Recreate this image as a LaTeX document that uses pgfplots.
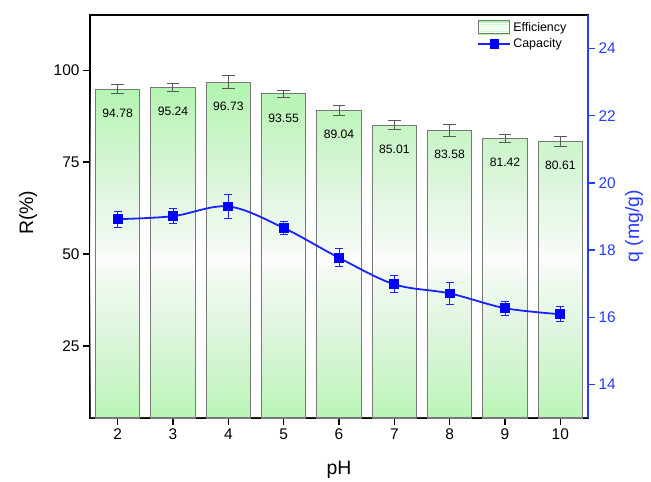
\documentclass[border=0pt]{standalone}
\usepackage{fontspec}
\setmainfont{Liberation Sans}
\usepackage{pgfplots}
\pgfplotsset{compat=1.18}
\usepackage{pgfplotstable}

\definecolor{barg}{RGB}{176,245,172}
\definecolor{barline}{RGB}{120,120,120}
\definecolor{qblue}{RGB}{25,35,255}
\definecolor{axblue}{RGB}{40,60,255}

% legend glyphs: green box whitening towards its centre, line with centred marker
\pgfplotsset{
  barleg/.style={legend image code/.code={%
    \fill[barg] (0bp,-6.5bp) rectangle (31bp,6.5bp);
    \fill[white, fill opacity=0.45] (0bp,-4.5bp) rectangle (31bp,4.5bp);
    \fill[white, fill opacity=0.6] (0bp,-2.5bp) rectangle (31bp,2.5bp);
    \draw[barline, line width=1bp] (0bp,-6.5bp) rectangle (31bp,6.5bp);}},
  capleg/.style={legend image code/.code={\draw[mark repeat=2, mark phase=2, ##1] plot coordinates {(0bp,0bp) (16bp,0bp) (32bp,0bp)};}},
}

% pH, removal efficiency R (%) with error, adsorption capacity q (mg/g) with error
\pgfplotstableread{
ph  R      eR    q      eq
2   94.78  1.20  18.92  0.24
3   95.24  1.00  19.01  0.22
4   96.73  1.70  19.30  0.35
5   93.55  0.95  18.66  0.20
6   89.04  1.30  17.77  0.27
7   85.01  1.27  16.98  0.25
8   83.58  1.70  16.71  0.32
9   81.42  1.10  16.27  0.21
10  80.61  1.27  16.09  0.23
}\datatable

\begin{document}
\begin{tikzpicture}
\useasboundingbox (-90bp,-64bp) rectangle (561bp,418bp);

% Efficiency bars on the left axis
\begin{axis}[
  scale only axis, width=498bp, height=403bp,
  xmin=1.5, xmax=10.5, ymin=5.4, ymax=115,
  xtick={2,3,...,10}, ytick={25,50,75,100},
  xtick pos=left, ytick pos=left,
  tick align=outside, major tick length=7bp,
  axis line style={black, line width=1.2bp},
  tick style={black, line width=1.2bp},
  /pgf/number format/assume math mode=true,
  ticklabel style={font=\fontsize{15.5}{18}\selectfont},
  xlabel={pH}, ylabel={R(\%)},
  every axis x label/.style={at={(axis description cs:0.5,-0.129)}, anchor=center, font=\fontsize{19.5}{22}\selectfont},
  every axis y label/.style={at={(axis description cs:-0.1245,0.509)}, anchor=center, rotate=90, font=\fontsize{19.5}{22}\selectfont},
  clip=true,
]
% bar bodies
\addplot[ybar, bar width=0.8, bar shift=0pt, fill=barg, draw=none, forget plot]
  table[x=ph, y=R]{\datatable};
% whitening towards mid-height of the bars (layered translucent bands)
\pgfplotsinvokeforeach{1,...,30}{%
  \pgfmathsetmacro\op{1-(((#1-0.5)/30)^1.2)/(((#1+0.5)/30)^1.2)}%
  \pgfmathsetmacro\ylo{max(5.4,48.5-#1*48.5/30)}%
  \pgfmathsetmacro\yhi{48.5+#1*48.5/30}%
  \edef\band{\noexpand\fill[white, fill opacity=\op] (axis cs:1.5,\ylo) rectangle (axis cs:10.5,\yhi);}%
  \band
}
% outlines, value labels and error bars
\addplot[ybar, bar width=0.8, bar shift=0pt, fill=none, draw=barline, line width=1.1bp,
  point meta=y,
  nodes near coords={\pgfmathprintnumber[fixed,fixed zerofill,precision=2,assume math mode=true]{\pgfplotspointmeta}},
  nodes near coords style={font=\fontsize{12.2}{14}\selectfont, black, anchor=center, yshift=-24bp},
  error bars/.cd, y dir=both, y explicit,
  error bar style={black!65, line width=1bp},
  error mark options={black!65, line width=1bp, mark size=6.3bp, rotate=90}]
  table[x=ph, y=R, y error=eR]{\datatable};
\end{axis}

% Capacity curve on the right axis
\begin{axis}[
  scale only axis, width=498bp, height=403bp,
  xmin=1.5, xmax=10.5, ymin=13, ymax=25,
  axis x line=none, axis y line*=right,
  ytick={14,16,...,24},
  tick align=outside, major tick length=7bp,
  y axis line style={axblue, line width=1.6bp},
  ytick style={axblue, line width=1.2bp},
  /pgf/number format/assume math mode=true,
  yticklabel style={axblue, font=\fontsize{15.5}{18}\selectfont},
  ylabel={q (mg/g)},
  every axis y label/.style={at={(axis description cs:1.0924,0.476)}, anchor=center, rotate=90, axblue, font=\fontsize{19.5}{22}\selectfont},
  legend style={draw=none, fill=none, at={(axis description cs:0.965,0.993)}, anchor=north east,
    font=\fontsize{12.5}{14}\selectfont, row sep=2bp, inner sep=2bp},
  legend cell align=left,
]
\addlegendimage{barleg}
\addlegendentry{Efficiency}
\addlegendimage{qblue, line width=1.8bp, mark=square*, mark size=4bp, mark options={fill=blue, draw=blue}, capleg}
\addlegendentry{Capacity}

\addplot[qblue, line width=1.8bp, smooth, tension=0.55, forget plot,
  mark=square*, mark size=4bp, mark options={fill=blue, draw=blue, solid},
  error bars/.cd, y dir=both, y explicit,
  error bar style={qblue, line width=1bp},
  error mark options={qblue, line width=1bp, mark size=4bp, rotate=90}]
  table[x=ph, y=q, y error=eq]{\datatable};
\end{axis}
\end{tikzpicture}
\end{document}
